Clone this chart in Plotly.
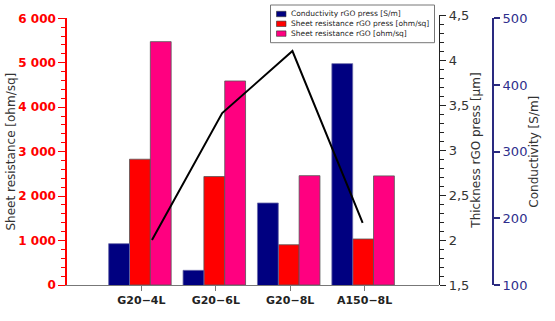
import plotly.graph_objects as go

# ---- data -------------------------------------------------------------
categories = ["G20−4L", "G20−6L", "G20−8L", "A150−8L"]
conductivity_press = [162, 122, 223, 432]          # S/m
sheet_res_press = [2830, 2440, 905, 1035]          # ohm/sq
sheet_res = [5475, 4590, 2460, 2455]               # ohm/sq
thickness_press = [2.0, 3.41, 4.1, 2.19]           # µm

names = [
    "Conductivity rGO press [S/m]",
    "Sheet resistance rGO press [ohm/sq]",
    "Sheet resistance rGO [ohm/sq]",
]
colors = ["#000080", "#ff0000", "#ff0080"]

# ---- geometry helpers -------------------------------------------------
W, H = 555, 321
ML, MR, MT, MB = 67, 50, 15, 36
PW, PH = W - ML - MR, H - MT - MB


def px(x):
    return (x - ML) / PW


def py(y):
    return (H - MB - y) / PH


FONT = "DejaVu Sans"
BAR_W = 0.28
offsets = [-0.44, -0.16, 0.12]
outline = dict(color="#555555", width=0.8)

fig = go.Figure()

# conductivity bars on their own axis (right, navy)
fig.add_trace(go.Bar(
    x=categories, y=conductivity_press, name=names[0],
    marker=dict(color=colors[0], line=dict(color="#6a6aa8", width=0.8)),
    width=BAR_W, offset=offsets[0], xaxis="x", yaxis="y3", showlegend=False,
))
# sheet resistance bars (left axis)
fig.add_trace(go.Bar(
    x=categories, y=sheet_res_press, name=names[1],
    marker=dict(color=colors[1], line=outline),
    width=BAR_W, offset=offsets[1], xaxis="x", yaxis="y", showlegend=False,
))
fig.add_trace(go.Bar(
    x=categories, y=sheet_res, name=names[2],
    marker=dict(color=colors[2], line=outline),
    width=BAR_W, offset=offsets[2], xaxis="x", yaxis="y", showlegend=False,
))
# thickness line
fig.add_trace(go.Scatter(
    x=categories, y=thickness_press, mode="lines", name="Thickness rGO press [µm]",
    line=dict(color="black", width=2), xaxis="x2", yaxis="y2", showlegend=False,
))

xdom_end = px(439)

fig.update_layout(
    width=W, height=H,
    margin=dict(l=ML, r=MR, t=MT, b=MB, pad=0),
    paper_bgcolor="white", plot_bgcolor="rgba(0,0,0,0)",
    separators=", ",
    font=dict(family=FONT, color="#333333"),
    barmode="overlay",
    xaxis=dict(
        type="category", domain=[0, xdom_end], range=[-1, 4], autorange=False,
        anchor="y", automargin=False,
        showline=True, linecolor="#777777", linewidth=1,
        ticks="outside", ticklen=5, tickcolor="#777777",
        tickfont=dict(family=FONT, size=11, color="#222222", weight="bold"),
        showgrid=False, zeroline=False,
    ),
    xaxis2=dict(
        type="category", domain=[0, xdom_end], range=[-1.21, 4.087], autorange=False,
        anchor="y2", visible=False, showgrid=False, automargin=False,
    ),
    yaxis=dict(
        domain=[0, py(18.3)], range=[0, 6000], anchor="x", side="left",
        automargin=False,
        showline=True, linecolor="#ff0000", linewidth=1.5,
        ticks="outside", ticklen=7, tickcolor="#ff0000", tickwidth=1.2,
        dtick=1000, separatethousands=True,
        minor=dict(dtick=200, ticks="outside", ticklen=4, tickcolor="#ff0000", tickwidth=1),
        tickfont=dict(family=FONT, size=12, color="#ff0000", weight="bold"),
        title=dict(text="Sheet resistance [ohm/sq]", standoff=0,
                   font=dict(family=FONT, size=12, color="#333333")),
        showgrid=False, zeroline=False,
    ),
    yaxis2=dict(
        domain=[0, 1], range=[1.5, 4.5], anchor="x2", side="right",
        automargin=False,
        showline=True, linecolor="#222222", linewidth=1.2,
        ticks="outside", ticklen=6, tickcolor="#222222",
        dtick=0.5,
        minor=dict(dtick=0.1, ticks="outside", ticklen=4, tickcolor="#222222"),
        tickfont=dict(family=FONT, size=13, color="#333333"),
        title=dict(text="Thickness rGO press [µm]", standoff=0,
                   font=dict(family=FONT, size=12, color="#333333")),
        showgrid=False, zeroline=False,
    ),
    yaxis3=dict(
        domain=[0, py(18.3)], range=[100, 500], anchor="free", position=px(493),
        side="right", automargin=False,
        showline=True, linecolor="#2a2a80", linewidth=2,
        ticks="outside", ticklen=6, tickcolor="#2a2a80", tickwidth=1.5,
        dtick=100,
        tickfont=dict(family=FONT, size=13, color="#2e2e8c"),
        title=dict(text="Conductivity [S/m]", standoff=0,
                   font=dict(family=FONT, size=12, color="#333333")),
        showgrid=False, zeroline=False,
    ),
)

# compact legend box in the upper right of the plot area
shapes = [dict(
    type="rect", xref="paper", yref="paper",
    x0=px(270.5), x1=px(434.5), y0=py(42.7), y1=py(5),
    line=dict(color="#777777", width=1), fillcolor="white", layer="above",
)]
annotations = []
for i, (nm, col) in enumerate(zip(names, colors)):
    yc = 14 + i * 9.8
    shapes.append(dict(
        type="rect", xref="paper", yref="paper",
        x0=px(276.5), x1=px(286), y0=py(yc + 2.7), y1=py(yc - 2.7),
        line=dict(color="#333333", width=0.6), fillcolor=col, layer="above",
    ))
    annotations.append(dict(
        text=nm, xref="paper", yref="paper", x=px(289), y=py(yc),
        xanchor="left", yanchor="middle", showarrow=False,
        font=dict(family=FONT, size=7.5, color="#222222"),
    ))
fig.update_layout(shapes=shapes, annotations=annotations)

fig.write_html("out.html")
